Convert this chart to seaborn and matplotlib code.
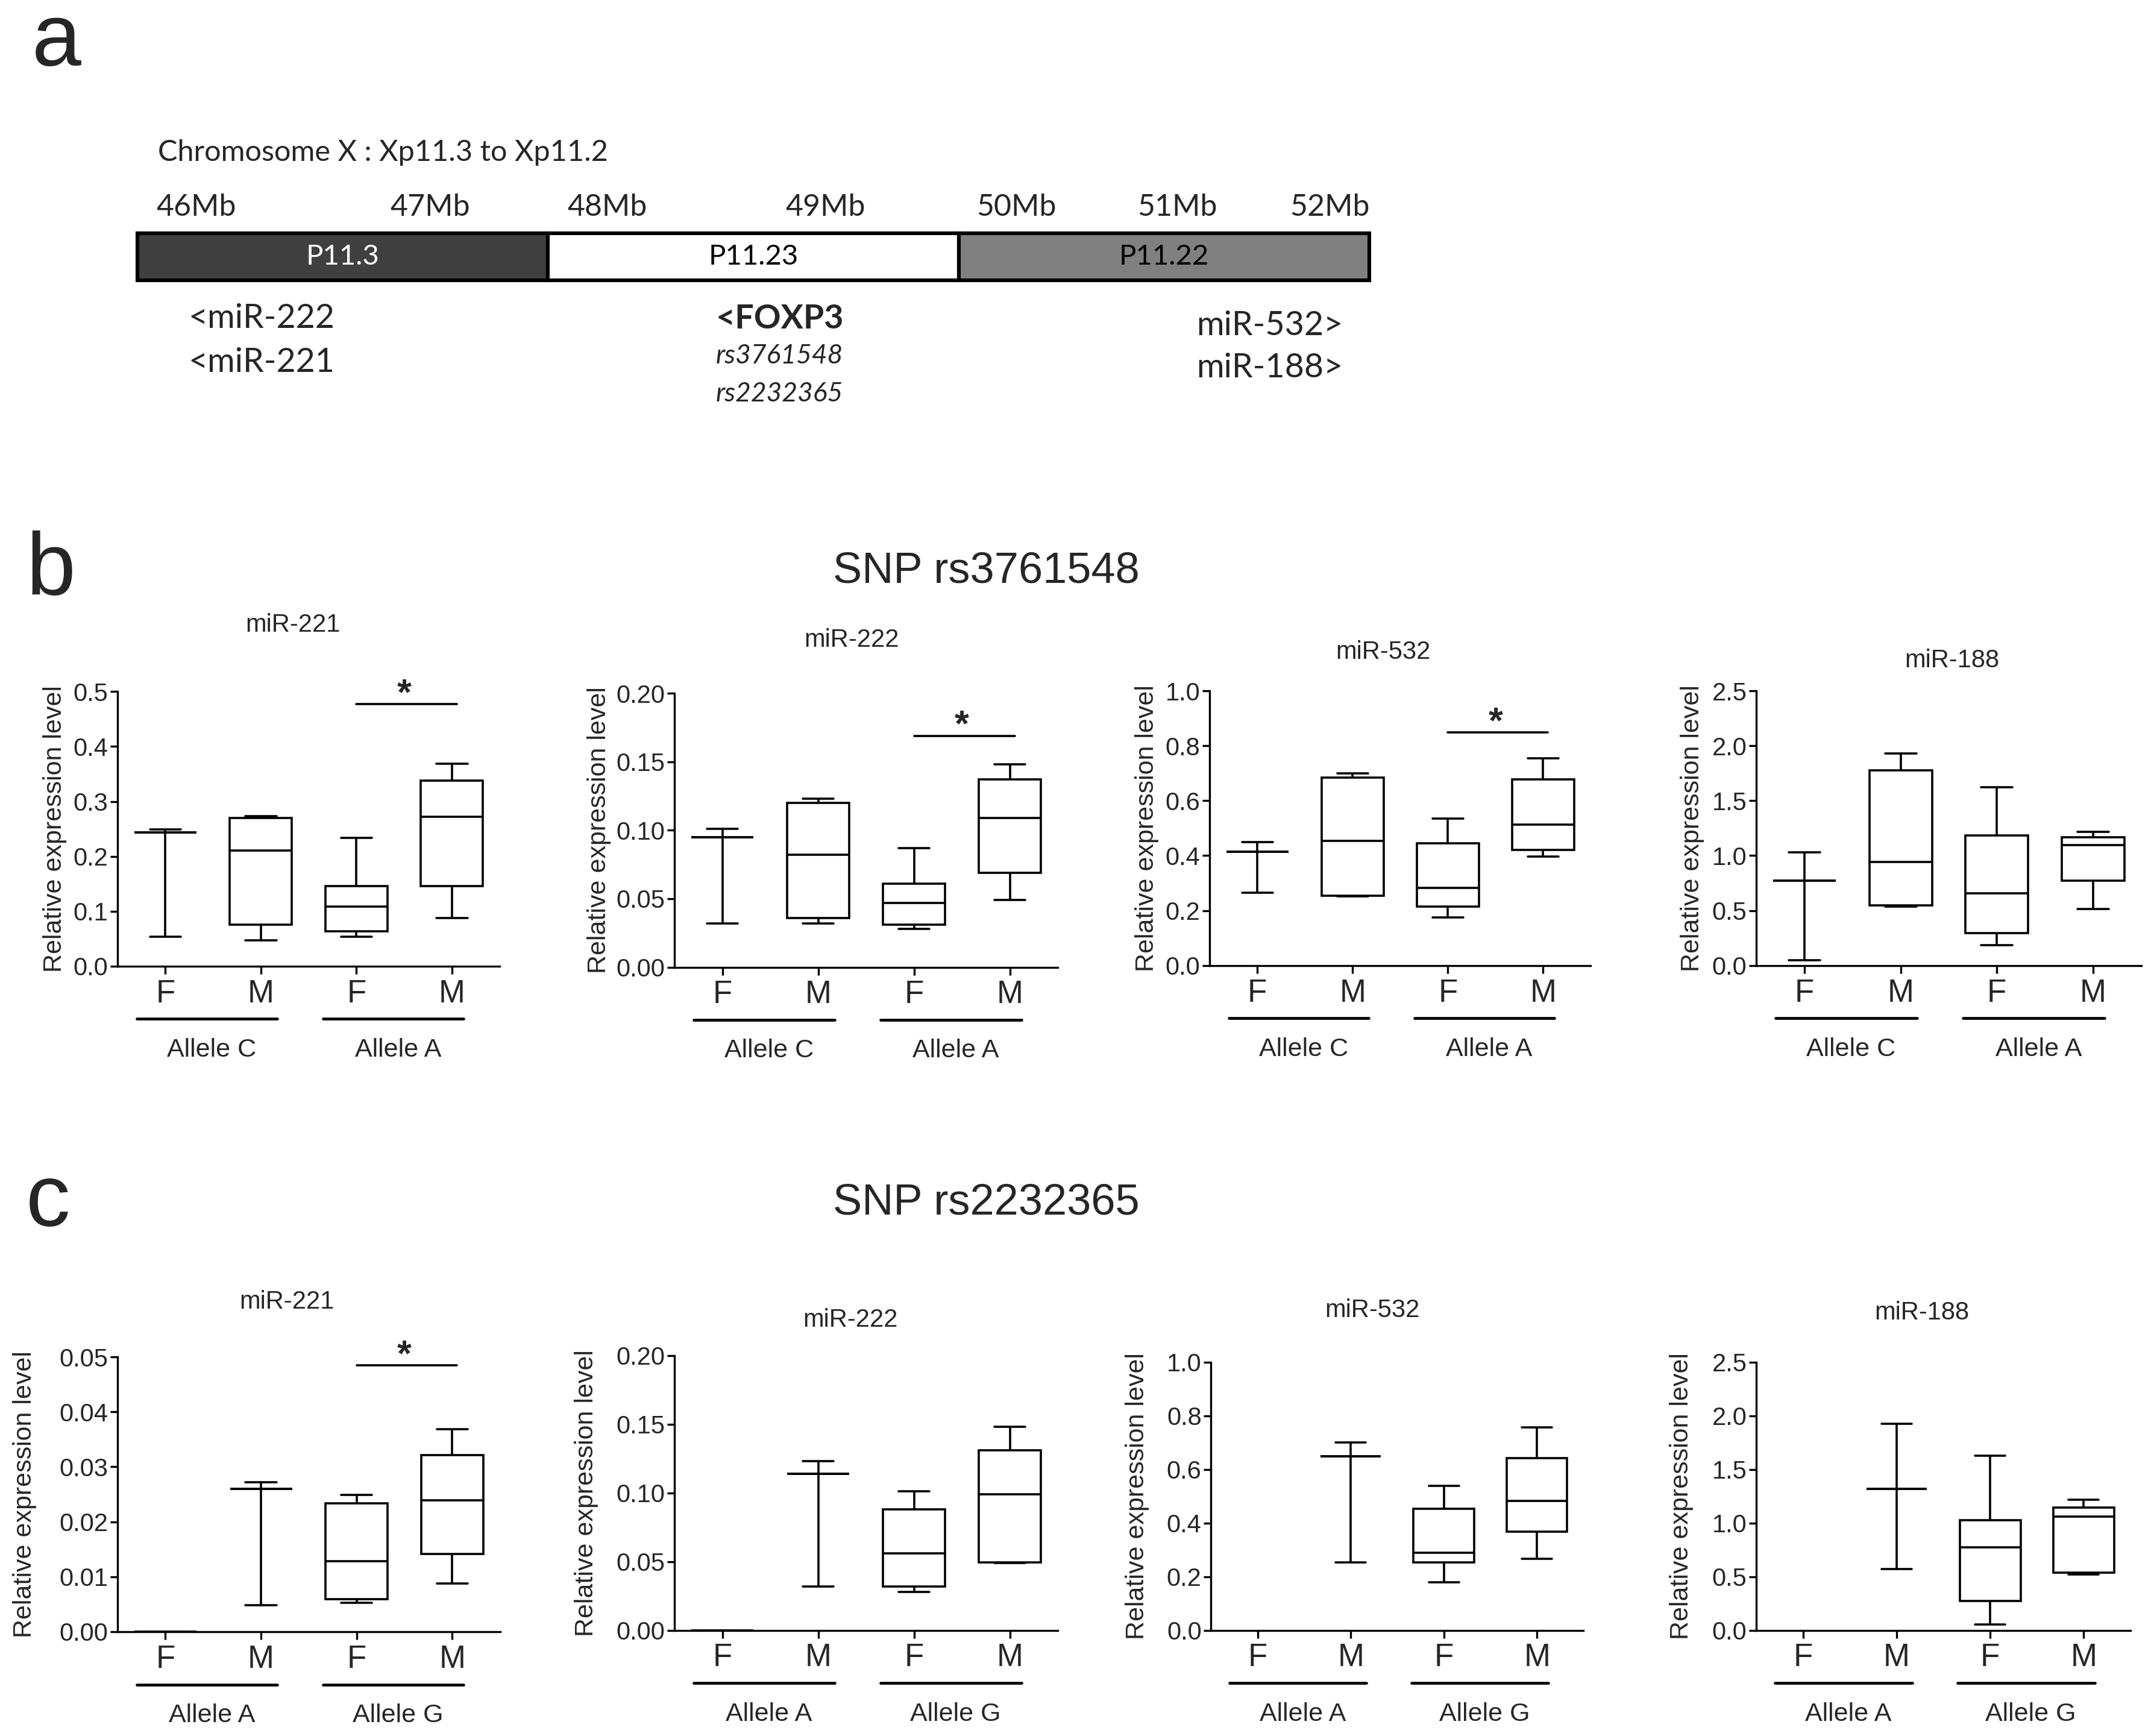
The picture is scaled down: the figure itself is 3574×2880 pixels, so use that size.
import numpy as np
import pandas as pd
import seaborn as sns
import matplotlib.pyplot as plt
import matplotlib.transforms as mtransforms

sns.set_theme(style="ticks")
plt.rcParams['font.family'] = ['Liberation Sans', 'DejaVu Sans']

# ---------------- data ----------------
# panel a: chromosome schematic
band_names = ["P11.3", "P11.23", "P11.22"]
band_colors = ["#404040", "#ffffff", "#808080"]
band_text_colors = ["white", "black", "black"]
mb_labels = ["46Mb", "47Mb", "48Mb", "49Mb", "50Mb", "51Mb", "52Mb"]

genes = ["miR-221", "miR-222", "miR-532", "miR-188"]
groups = ["F1", "M1", "F2", "M2"]
sex_labels = ["F", "M", "F", "M"]
alleles_b = ["Allele C", "Allele A"]
alleles_c = ["Allele A", "Allele G"]

# five-number summaries (min, q1, median, q3, max) per group: F/M allele 1, F/M allele 2
b_mir221 = [[0.053, 0.243, 0.243, 0.243, 0.249],
            [0.047, 0.075, 0.210, 0.270, 0.273],
            [0.053, 0.063, 0.108, 0.146, 0.234],
            [0.088, 0.146, 0.272, 0.338, 0.369]]
b_mir222 = [[0.032, 0.095, 0.095, 0.095, 0.101],
            [0.032, 0.036, 0.082, 0.120, 0.123],
            [0.028, 0.031, 0.047, 0.061, 0.087],
            [0.049, 0.069, 0.109, 0.137, 0.148]]
b_mir532 = [[0.266, 0.414, 0.414, 0.414, 0.449],
            [0.251, 0.253, 0.454, 0.685, 0.699],
            [0.175, 0.215, 0.282, 0.445, 0.536],
            [0.397, 0.420, 0.514, 0.678, 0.755]]
b_mir188 = [[0.048, 0.770, 0.770, 0.770, 1.029],
            [0.538, 0.547, 0.942, 1.778, 1.929],
            [0.184, 0.297, 0.657, 1.183, 1.623],
            [0.514, 0.770, 1.097, 1.168, 1.216]]

c_mir221 = [[0.0, 0.0, 0.0, 0.0, 0.0],
            [0.0048, 0.0260, 0.0260, 0.0260, 0.0272],
            [0.0053, 0.0059, 0.0128, 0.0233, 0.0249],
            [0.0088, 0.0141, 0.0239, 0.0321, 0.0369]]
c_mir222 = [[0.0, 0.0, 0.0, 0.0, 0.0],
            [0.032, 0.114, 0.114, 0.114, 0.123],
            [0.028, 0.032, 0.056, 0.088, 0.101],
            [0.049, 0.0495, 0.099, 0.131, 0.148]]
c_mir532 = [[],
            [0.254, 0.649, 0.649, 0.649, 0.701],
            [0.179, 0.254, 0.289, 0.452, 0.539],
            [0.267, 0.367, 0.482, 0.642, 0.757]]
c_mir188 = [[],
            [0.571, 1.315, 1.315, 1.315, 1.926],
            [0.054, 0.274, 0.771, 1.027, 1.625],
            [0.518, 0.536, 1.057, 1.143, 1.214]]

b_panels = [b_mir221, b_mir222, b_mir532, b_mir188]
c_panels = [c_mir221, c_mir222, c_mir532, c_mir188]

b_ymax = [0.5, 0.20, 1.0, 2.5]
b_ystep = [0.1, 0.05, 0.2, 0.5]
b_fmt = ["{:.1f}", "{:.2f}", "{:.1f}", "{:.1f}"]
c_ymax = [0.05, 0.20, 1.0, 2.5]
c_ystep = [0.01, 0.05, 0.2, 0.5]
c_fmt = ["{:.2f}", "{:.2f}", "{:.1f}", "{:.1f}"]

# significance bars (F vs M, second allele)
b_sig = [0.477, 0.169, 0.848, None]
c_sig = [0.0485, None, None, None]

# ---------------- layout (reference pixel grid 1568 x 1264) ----------------
W, H = 1568.0, 1264.0


def fx(x):
    return x / W


def fy(y):
    return 1 - y / H


b_boxes = [(85.6, 503.6, 363.7, 703.4), (491, 504.8, 770, 704.2),
           (880.6, 503, 1158, 703), (1278.6, 503, 1558.6, 703)]
c_boxes = [(85.6, 988, 364, 1188), (491, 987, 770, 1187),
           (881.6, 991.7, 1152.7, 1187), (1278.6, 991.7, 1550.8, 1187)]
b_titles = [(213, 455), (620, 466), (1007, 475), (1421, 481)]
c_titles = [(209, 948), (619, 961), (999, 954), (1399, 956)]
b_ylab_x = [40, 436, 835, 1232]
c_ylab_x = [18, 427, 828, 1224]

fig = plt.figure(figsize=(17.87, 14.4), dpi=200)

# ---------------- panel a ----------------
fig.text(fx(41), fy(31), "a", fontsize=53, ha="center", va="center")
calibri = ['Lato', 'DejaVu Sans']
fig.text(fx(115), fy(111), "Chromosome X : Xp11.3 to Xp11.2", fontsize=17.5,
         family=calibri, ha="left", va="center")
mb_x = [143, 313, 442, 601, 740, 857, 968]
for lab, x in zip(mb_labels, mb_x):
    fig.text(fx(x), fy(151), lab, fontsize=18, family=calibri, ha="center", va="center")

ax_chr = fig.add_axes([fx(100), fy(204), fx(997) - fx(100), 34 / H])
bars = ax_chr.barh(y=np.zeros(len(band_names)), width=np.ones(len(band_names)),
                   left=np.arange(len(band_names)), height=1.0,
                   color=band_colors, edgecolor="black", linewidth=2.2)
for b in bars:
    b.set_clip_on(False)
for i, (name, tc) in enumerate(zip(band_names, band_text_colors)):
    ax_chr.text(i + 0.5, 0, name, color=tc, fontsize=17, family=calibri,
                ha="center", va="center")
ax_chr.set_xlim(0, len(band_names))
ax_chr.set_ylim(-0.5, 0.5)
ax_chr.axis("off")

fig.text(fx(137), fy(232), "<miR-222", fontsize=20, family=calibri, ha="left", va="center")
fig.text(fx(137), fy(264), "<miR-221", fontsize=20, family=calibri, ha="left", va="center")
fig.text(fx(521), fy(232), "<FOXP3", fontsize=20, family=calibri, weight="bold",
         ha="left", va="center")
fig.text(fx(521), fy(259), "rs3761548", fontsize=16, family=calibri, style="italic",
         ha="left", va="center")
fig.text(fx(521), fy(287), "rs2232365", fontsize=16, family=calibri, style="italic",
         ha="left", va="center")
fig.text(fx(871), fy(237), "miR-532>", fontsize=20, family=calibri, ha="left", va="center")
fig.text(fx(871), fy(268), "miR-188>", fontsize=20, family=calibri, ha="left", va="center")

# ---------------- panels b and c ----------------
fig.text(fx(37), fy(416), "b", fontsize=53, ha="center", va="center")
fig.text(fx(718), fy(416), "SNP rs3761548", fontsize=26, ha="center", va="center")
fig.text(fx(35), fy(876), "c", fontsize=53, ha="center", va="center")
fig.text(fx(718), fy(876), "SNP rs2232365", fontsize=26, ha="center", va="center")


def draw_panel(box, summary, title, ymax, ystep, fmt, title_xy, ylab_x, alleles, sig):
    left, top, right, bottom = box
    ax = fig.add_axes([fx(left), fy(bottom), fx(right) - fx(left), (bottom - top) / H])
    rows = []
    for g, vals in zip(groups, summary):
        for v in vals:
            rows.append((g, v))
    df = pd.DataFrame(rows, columns=["group", "value"])
    sns.boxplot(data=df, x="group", y="value", order=groups, ax=ax,
                whis=(0, 100), width=0.65, color="white", saturation=1,
                linecolor="black", linewidth=1.3, fliersize=0)
    ax.set_xlim(-0.5, 3.5)
    ax.set_ylim(0, ymax)
    ticks = np.arange(0, ymax + ystep / 2, ystep)
    ax.set_yticks(ticks)
    ax.set_yticklabels([fmt.format(t) for t in ticks], fontsize=15)
    ax.set_xticks(range(len(groups)))
    ax.set_xticklabels(sex_labels, fontsize=19)
    ax.set_xlabel("")
    ax.set_ylabel("Relative expression level", fontsize=15.5)
    ax.yaxis.label.set_va("center")
    ax.yaxis.set_label_coords((ylab_x - left) / (right - left), 0.5)
    ax.tick_params(axis="y", length=4.2, width=1.2, pad=1.5, color="black")
    ax.tick_params(axis="x", length=4.5, width=1.2, pad=3, color="black")
    sns.despine(ax=ax)
    for s in ["left", "bottom"]:
        ax.spines[s].set_linewidth(1.2)
        ax.spines[s].set_color("black")
    ax.set_facecolor("none")

    h = bottom - top
    trans = mtransforms.blended_transform_factory(ax.transData, ax.transAxes)
    for (x0, x1), lab in zip([(-0.3, 1.17), (1.65, 3.12)], alleles):
        ax.plot([x0, x1], [-38.5 / h, -38.5 / h], color="black", lw=1.7,
                transform=trans, clip_on=False)
        ax.text((x0 + x1) / 2 + 0.05, -61 / h, lab, transform=trans, fontsize=15.5,
                ha="center", va="center")
    if sig is not None:
        ax.plot([2.0, 3.05], [sig, sig], color="black", lw=1.3, clip_on=False)
        ax.text(2.5, sig, "*", fontsize=22, weight="bold", ha="center",
                va="baseline", clip_on=False)
    fig.text(fx(title_xy[0]), fy(title_xy[1]), title, fontsize=15,
             ha="center", va="center")
    return ax


for i in range(4):
    draw_panel(b_boxes[i], b_panels[i], genes[i], b_ymax[i], b_ystep[i], b_fmt[i],
               b_titles[i], b_ylab_x[i], alleles_b, b_sig[i])
    draw_panel(c_boxes[i], c_panels[i], genes[i], c_ymax[i], c_ystep[i], c_fmt[i],
               c_titles[i], c_ylab_x[i], alleles_c, c_sig[i])

fig.savefig("out.png", dpi=200, facecolor="white")
